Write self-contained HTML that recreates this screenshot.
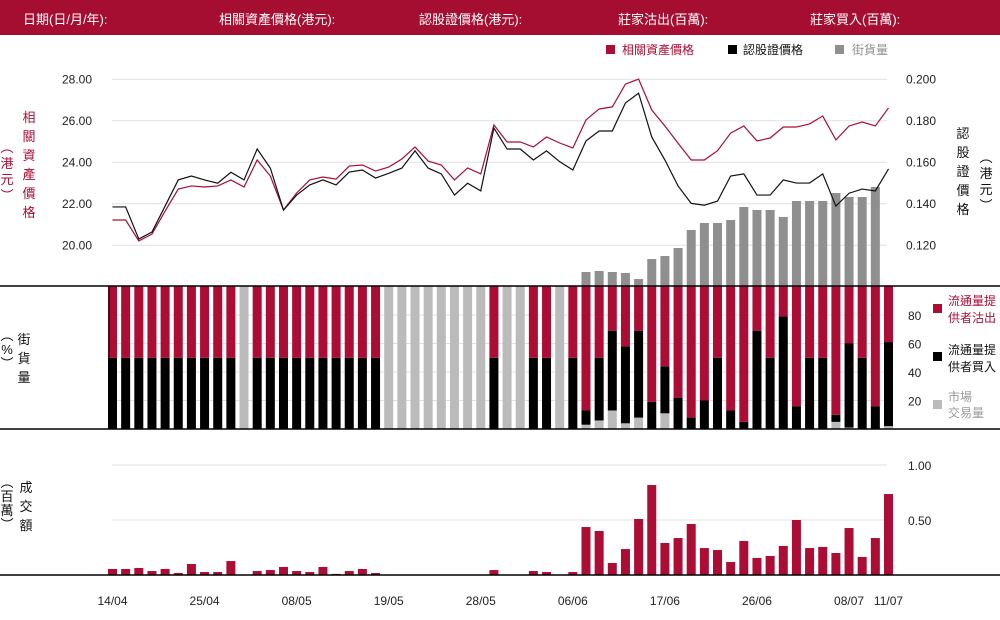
<!DOCTYPE html>
<html><head><meta charset="utf-8">
<style>
body{margin:0;background:#fff;width:1000px;height:620px;overflow:hidden;font-family:"Liberation Sans","Noto Sans CJK TC",sans-serif;}
#hdr{position:absolute;left:0;top:0;width:1000px;height:35px;background:#a50e31;}
#hdr span{position:absolute;top:9px;color:#fff;font-size:13px;}
svg{position:absolute;left:0;top:0;}
text{font-family:"Liberation Sans","Noto Sans CJK TC",sans-serif;}
</style></head><body>
<div id="hdr">
<span style="left:23px">日期(日/月/年):</span>
<span style="left:219px">相關資產價格(港元):</span>
<span style="left:419px">認股證價格(港元):</span>
<span style="left:618px">莊家沽出(百萬):</span>
<span style="left:810px">莊家買入(百萬):</span>
</div>
<svg id="chart" width="1000" height="620"></svg>
<script>
const dateLabels=["14/04","25/04","08/05","19/05","28/05","06/06","17/06","26/06","08/07","11/07"];
const dateIdx=[0,7,14,21,28,35,42,49,56,59];
const underlying=[21.22,21.22,20.21,20.54,21.65,22.71,22.86,22.81,22.86,23.15,22.81,24.11,23.34,21.70,22.52,23.15,23.29,23.19,23.82,23.87,23.58,23.77,24.16,24.74,24.06,23.87,23.15,23.73,23.44,25.80,24.98,24.98,24.74,25.22,24.93,24.69,26.04,26.57,26.67,27.77,28.01,26.52,25.75,24.92,24.11,24.11,24.56,25.41,25.75,25.03,25.17,25.70,25.70,25.85,26.23,25.08,25.75,25.94,25.75,26.62];
const warrant=[0.1385,0.1385,0.1230,0.1264,0.1389,0.1515,0.1534,0.1515,0.1499,0.1552,0.1515,0.1664,0.1572,0.1370,0.1442,0.1491,0.1515,0.1491,0.1553,0.1563,0.1524,0.1547,0.1572,0.1655,0.1572,0.1544,0.1442,0.1499,0.1462,0.1765,0.1664,0.1664,0.1611,0.1655,0.1603,0.1563,0.1703,0.1751,0.1751,0.1886,0.1933,0.1722,0.1611,0.1486,0.1402,0.1393,0.1413,0.1534,0.1544,0.1442,0.1442,0.1515,0.1500,0.1500,0.1544,0.1389,0.1451,0.1471,0.1462,0.1568];
const streetVol=[0,0,0,0,0,0,0,0,0,0,0,0,0,0,0,0,0,0,0,0,0,0,0,0,0,0,0,0,0,0,0,0,0,0,0,0,14,15,14,13,7,27,30,38,56,63,63,66,79,76,76,69,85,85,85,93,89,89,99,0];
const marketPct=[0,0,0,0,0,0,0,0,0,0,100,0,0,0,0,0,0,0,0,0,0,100,100,100,100,100,100,100,100,0,100,100,0,0,100,0,3,6,13,4,8,0,11,0,0,0,0,0,0,0,0,0,0,0,0,5,1,0,0,2];
const buyPct=[50,50,50,50,50,50,50,50,50,50,0,50,50,50,50,50,50,50,50,50,50,0,0,0,0,0,0,0,0,50,0,0,50,50,0,50,10,44,56,54,61,19,33,22,8,20,50,13,5,69,50,79,16,50,50,5,59,50,16,59];
const turnover=[0.055,0.055,0.064,0.036,0.055,0.018,0.1,0.027,0.027,0.127,0,0.036,0.045,0.073,0.036,0.027,0.073,0.01,0.036,0.055,0.018,0,0,0,0,0,0,0,0,0.045,0,0,0.036,0.027,0,0.027,0.436,0.4,0.109,0.236,0.509,0.818,0.291,0.336,0.464,0.245,0.227,0.118,0.309,0.155,0.173,0.264,0.5,0.245,0.255,0.2,0.427,0.164,0.336,0.736];
const leftTicks=[20,22,24,26,28];
const rightTicks=[0.12,0.14,0.16,0.18,0.2];
const pctTicks=[20,40,60,80];
const turnTicks=[0.5,1.0];

const RED="#ab0d35",GRAY="#8f8f8f",LGRAY="#bbbbbb",GRID="#e0e0e0";
const svg=document.getElementById('chart');
const NS="http://www.w3.org/2000/svg";
function mk(tag,attrs,name,txt){const e=document.createElementNS(NS,tag);for(const k in attrs)e.setAttribute(k,attrs[k]);


if(txt!==undefined)e.textContent=txt;svg.appendChild(e);return e;}
const N=underlying.length;
const xC=i=>112.5+i*(776/(N-1));
const BW=9;
const yL=v=>79.3+(28-v)*20.75;
const yR=v=>79.3+(0.2-v)*2075;
const yVol=v=>286-v;
const yPct=v=>429-v*1.425;
const yT=v=>575-v*110;

// gridlines top
leftTicks.forEach((t,i)=>{mk('line',{x1:112,x2:887,y1:yL(t),y2:yL(t),stroke:GRID,'stroke-width':1},'top-gridline');
mk('text',{x:92,y:yL(t)+4,'text-anchor':'end','font-size':12,fill:'#222'},'left-tick-label',t.toFixed(2));});
rightTicks.forEach(t=>{mk('text',{x:906,y:yR(t)+4,'font-size':12,fill:'#222'},'right-tick-label',t.toFixed(3));});
// street volume bars
streetVol.forEach((v,i)=>{if(v>0)mk('rect',{x:xC(i)-BW/2,y:yVol(v),width:BW,height:v,fill:GRAY},'street-volume-bar');});
// lines
mk('polyline',{points:underlying.map((v,i)=>xC(i)+','+yL(v)).join(' '),fill:'none',stroke:RED,'stroke-width':1.2},'underlying-price-line');
mk('polyline',{points:warrant.map((v,i)=>xC(i)+','+yR(v)).join(' '),fill:'none',stroke:'#111','stroke-width':1.2},'warrant-price-line');

// middle panel
pctTicks.forEach(t=>{mk('line',{x1:112,x2:893,y1:yPct(t),y2:yPct(t),stroke:GRID},'pct-gridline');
mk('text',{x:908,y:yPct(t)+5,'font-size':12,fill:'#222'},'pct-tick-label',t);});
for(let i=0;i<N;i++){const x=xC(i)-BW/2;const m=marketPct[i],b=buyPct[i],s=100-m-b;
 if(m>0)mk('rect',{x:x,y:yPct(m),width:BW,height:m*1.425,fill:LGRAY},'market-volume-bar');
 if(b>0)mk('rect',{x:x,y:yPct(m+b),width:BW,height:b*1.425,fill:'#000'},'issuer-buy-bar');
 if(s>0)mk('rect',{x:x,y:yPct(100),width:BW,height:s*1.425,fill:RED},'issuer-sell-bar');}
mk('line',{x1:0,x2:1000,y1:286,y2:286,stroke:'#000','stroke-width':1.5},'panel-divider-top');
mk('line',{x1:0,x2:1000,y1:429,y2:429,stroke:'#000','stroke-width':1.5},'panel-divider-bottom');
mk('line',{x1:109,x2:109,y1:286,y2:429,stroke:'#000','stroke-width':1},'pct-axis-line');

// bottom panel
turnTicks.forEach(t=>{mk('line',{x1:112,x2:887,y1:yT(t),y2:yT(t),stroke:GRID},'turnover-gridline');
mk('text',{x:908,y:yT(t)+5,'font-size':12,fill:'#222'},'turnover-tick-label',t.toFixed(2));});
turnover.forEach((v,i)=>{if(v>0)mk('rect',{x:xC(i)-BW/2,y:yT(v),width:BW,height:v*110,fill:RED},'turnover-bar');});
mk('line',{x1:0,x2:1000,y1:575,y2:575,stroke:'#000','stroke-width':1.5},'turnover-baseline');
dateIdx.forEach((d,k)=>{mk('text',{x:xC(d),y:605,'text-anchor':'middle','font-size':12,fill:'#222'},'x-tick-label',dateLabels[k]);});

// legends
function vtext(x,y0,chars,fill,name,step,size){const g=chars.split('');g.forEach((c,i)=>mk('text',{x:x,y:y0+i*step,'text-anchor':'middle','font-size':size||13,fill:fill},name,c));}
mk('rect',{x:606,y:45,width:9,height:9,fill:RED},'legend-underlying-swatch');
mk('text',{x:622,y:54,'font-size':12,fill:RED},'legend-underlying','相關資產價格');
mk('rect',{x:728,y:45,width:9,height:9,fill:'#000'},'legend-warrant-swatch');
mk('text',{x:743,y:54,'font-size':12,fill:'#111'},'legend-warrant','認股證價格');
mk('rect',{x:835,y:45,width:9,height:9,fill:GRAY},'legend-street-swatch');
mk('text',{x:852,y:54,'font-size':12,fill:GRAY},'legend-street-volume','街貨量');
vtext(29,122,'相關資產價格',RED,'left-axis-title',19);
vtext(7,152,'(港元)'.replace('(','︵').replace(')','︶'),RED,'left-axis-unit',16);
vtext(963,138,'認股證價格','#111','right-axis-title',19);
vtext(986,162,'︵港元︶','#111','right-axis-unit',16);
vtext(24,344,'街貨量','#111','pct-axis-title',19);
vtext(7,340,'︵%︶','#111','pct-axis-unit',14);
vtext(26,492,'成交額','#111','turnover-axis-title',19);
vtext(7,487,'︵百萬︶','#111','turnover-axis-unit',14);
mk('rect',{x:933,y:304,width:9,height:9,fill:RED},'legend-sell-swatch');
mk('text',{x:948,y:305,'font-size':12,fill:RED},'legend-sell-line1','流通量提');
mk('text',{x:948,y:322,'font-size':12,fill:RED},'legend-sell-line2','供者沽出');
mk('rect',{x:933,y:352,width:9,height:9,fill:'#000'},'legend-buy-swatch');
mk('text',{x:948,y:354,'font-size':12,fill:'#111'},'legend-buy-line1','流通量提');
mk('text',{x:948,y:371,'font-size':12,fill:'#111'},'legend-buy-line2','供者買入');
mk('rect',{x:933,y:400,width:9,height:9,fill:LGRAY},'legend-market-swatch');
mk('text',{x:948,y:401,'font-size':12,fill:'#999'},'legend-market-line1','市場');
mk('text',{x:948,y:417,'font-size':12,fill:'#999'},'legend-market-line2','交易量');
</script>
</body></html>
